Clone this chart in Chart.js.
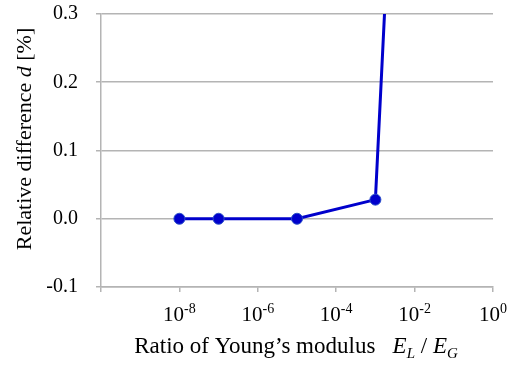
<!DOCTYPE html>
<html>
<head>
<meta charset="utf-8">
<script src="https://cdn.jsdelivr.net/npm/chart.js@4"></script>
<style>
  body { margin: 0; background: #fff; }
  #wrap { width: 513px; height: 365px; position: relative; }
</style>
</head>
<body>
<div id="wrap"><canvas class="my-chart"></canvas></div>
<script>
// ratio E_L / E_G and relative difference d [%]
const ratioValues = [1e-8, 1e-7, 1e-5, 1e-3, 1e-2];
const diffValues = [0, 0, 0, 0.028, 1.2];
const xTickValues = [1e-10, 1e-8, 1e-6, 1e-4, 1e-2, 1];
const yTickValues = [-0.1, 0, 0.1, 0.2, 0.3];

const serif = "Liberation Serif";
const gridColor = "#b4b4b4";

Chart.defaults.font.family = serif;
Chart.defaults.color = "#000";

// draws a run of text pieces (normal / italic / sub / sup) starting at x
function drawPieces(ctx, pieces, x, y) {
    pieces.forEach(function (p) {
        ctx.font = (p.italic ? "italic " : "") + p.size + "px '" + serif + "'";
        ctx.fillText(p.text, x, y + (p.dy || 0));
        x += ctx.measureText(p.text).width;
    });
}

function piecesWidth(ctx, pieces) {
    let w = 0;
    pieces.forEach(function (p) {
        ctx.font = (p.italic ? "italic " : "") + p.size + "px '" + serif + "'";
        w += ctx.measureText(p.text).width;
    });
    return w;
}

const labelsPlugin = {
    id: "labels",
    afterDraw: function (chart) {
        const ctx = chart.ctx;
        const xs = chart.scales.x;
        ctx.save();
        ctx.fillStyle = "#000";
        ctx.textAlign = "left";
        ctx.textBaseline = "alphabetic";

        // power-of-ten tick labels
        xTickValues.forEach(function (v) {
            const exp = Math.round(Math.log10(v));
            if (exp === -10) return;
            const pieces = [
                { text: "10", size: 21 },
                { text: exp < 0 ? "-" + (-exp) : String(exp), size: 14, dy: -8 },
            ];
            const w = piecesWidth(ctx, pieces);
            drawPieces(ctx, pieces, xs.getPixelForValue(v) - w / 2, 321);
        });

        // x axis title
        const xTitle = [
            { text: "Ratio of Young\u2019s modulus   ", size: 23 },
            { text: "E", size: 23, italic: true },
            { text: "L", size: 15, italic: true, dy: 5 },
            { text: " / ", size: 23 },
            { text: "E", size: 23, italic: true },
            { text: "G", size: 15, italic: true, dy: 5 },
        ];
        drawPieces(ctx, xTitle, 296 - piecesWidth(ctx, xTitle) / 2, 353);

        // y axis title, rotated
        const yTitle = [
            { text: "Relative difference ", size: 22 },
            { text: "d", size: 22, italic: true },
            { text: " [%]", size: 22 },
        ];
        ctx.translate(31, 139);
        ctx.rotate(-Math.PI / 2);
        drawPieces(ctx, yTitle, -piecesWidth(ctx, yTitle) / 2, 0);
        ctx.restore();
    },
};

const ctx = document.querySelector(".my-chart");
new Chart(ctx, {
    type: "line",
    data: {
        datasets: [
            {
                label: "d",
                data: ratioValues.map((r, i) => ({ x: r, y: diffValues[i] })),
                borderColor: "#0000cc",
                backgroundColor: "#0000cc",
                borderWidth: 3,
                pointRadius: 5.5,
                pointBorderWidth: 1,
                pointBorderColor: "#2a4fc8",
                pointBackgroundColor: "#0000cc",
                tension: 0,
            },
        ],
    },
    options: {
        responsive: true,
        maintainAspectRatio: false,
        animation: false,
        layout: { padding: { top: 14, right: 20, left: 0, bottom: 0 } },
        plugins: {
            legend: { display: false },
            tooltip: { enabled: false },
        },
        scales: {
            x: {
                type: "logarithmic",
                min: 1e-10,
                max: 1,
                afterBuildTicks: function (scale) {
                    scale.ticks = xTickValues.map((v) => ({ value: v }));
                },
                afterFit: function (scale) {
                    scale.height = 78;
                    scale.paddingLeft = 0;
                    scale.paddingRight = 0;
                },
                ticks: { display: false },
                grid: {
                    drawOnChartArea: false,
                    drawTicks: true,
                    tickLength: 5,
                    color: gridColor,
                    lineWidth: 1.5,
                },
                border: { color: gridColor, width: 1.5 },
            },
            y: {
                min: -0.1,
                max: 0.3,
                afterBuildTicks: function (scale) {
                    scale.ticks = yTickValues.map((v) => ({ value: v }));
                },
                afterFit: function (scale) {
                    scale.width = 101;
                    scale.paddingTop = 0;
                    scale.paddingBottom = 0;
                },
                ticks: {
                    padding: 18,
                    color: "#000",
                    font: { family: serif, size: 20 },
                    callback: (v) => Number(v).toFixed(1),
                },
                grid: {
                    color: gridColor,
                    lineWidth: 1.5,
                    tickLength: 5,
                },
                border: { color: gridColor, width: 1.5 },
            },
        },
    },
    plugins: [labelsPlugin],
});
</script>
</body>
</html>
